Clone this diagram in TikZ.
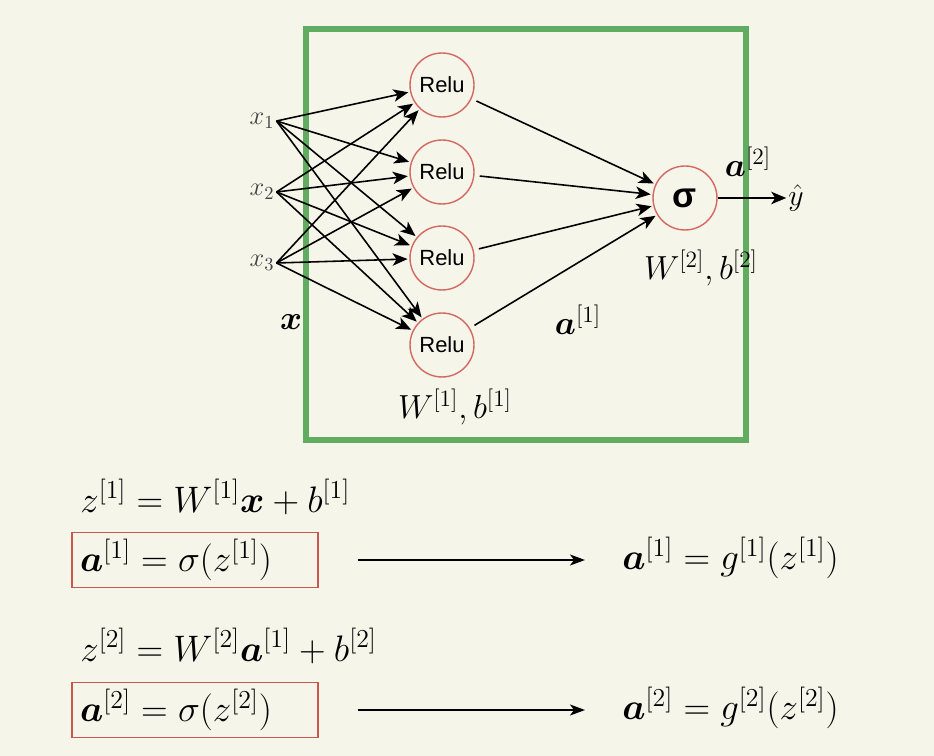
\RequirePackage{fix-cm}
\documentclass[tikz,border=0pt]{standalone}
\usepackage{amsmath, amssymb}
\usepackage{fontspec}
\setsansfont{Liberation Sans}
\usepackage{xcolor}
\usepackage{tikz}
\usetikzlibrary{arrows.meta}

\definecolor{paper}{RGB}{245,245,234}
\definecolor{framegreen}{RGB}{96,172,96}
\definecolor{unitred}{RGB}{214,104,98}
\definecolor{boxred}{RGB}{204,86,80}

\tikzset{
    unit/.style={circle, draw=unitred, line width=0.8pt, minimum size=1.28cm, inner sep=0pt,
        font=\sffamily\fontsize{12.5}{14}\selectfont},
    wire/.style={-{Stealth[length=3mm, width=2.5mm, inset=0.8mm]}, line width=0.9pt},
    inlbl/.style={inner sep=1pt, text=black!75, font=\fontsize{15}{17}\selectfont},
    lbl/.style={inner sep=0pt, font=\fontsize{19}{22}\selectfont},
    eq/.style={anchor=west, inner sep=0pt, font=\fontsize{21}{25}\selectfont},
    eqbox/.style={draw=boxred, line width=0.8pt, minimum height=1.1cm, text width=4.6cm,
        inner xsep=0.16cm, align=left, font=\fontsize{21}{25}\selectfont},
    link/.style={-{Stealth[length=3mm, width=2.2mm, inset=0.8mm]}, line width=1pt,
        shorten <=0.78cm, shorten >=0.74cm}
}

\begin{document}
\begin{tikzpicture}[x=0.02cm, y=-0.02cm]
    % Background and the green frame
    \useasboundingbox[fill=paper] (0,0) rectangle (934,756);
    \draw[framegreen, line width=0.12cm] (306,29) rectangle (746,440);

    % Inputs
    \node[inlbl] (x1) at (262,121) {$x_1$};
    \node[inlbl] (x2) at (262,192) {$x_2$};
    \node[inlbl] (x3) at (262,263) {$x_3$};

    % Hidden units
    \node[unit] (r1) at (442,85) {Relu};
    \node[unit] (r2) at (442,172) {Relu};
    \node[unit] (r3) at (442,258) {Relu};
    \node[unit] (r4) at (442,345) {Relu};

    % Output unit
    \node[unit, font=\sffamily\bfseries\fontsize{20}{22}\selectfont] (s) at (685,198) {σ};
    \node[inner sep=1pt, font=\fontsize{17}{19}\selectfont] (yhat) at (796,198) {$\hat{y}$};

    % Input to hidden
    \draw[wire, shorten >=1pt] (x1.east) -- (r1);
    \draw[wire, shorten >=1pt] (x1.east) -- (r2);
    \draw[wire, shorten >=1pt] (x1.east) -- (r3);
    \draw[wire, shorten >=1pt] (x1.east) -- (r4);
    \draw[wire, shorten >=1pt] (x2.east) -- (r1);
    \draw[wire, shorten >=1pt] (x2.east) -- (r2);
    \draw[wire, shorten >=1pt] (x2.east) -- (r3);
    \draw[wire, shorten >=1pt] (x2.east) -- (r4);
    \draw[wire, shorten >=1pt] (x3.east) -- (r1);
    \draw[wire, shorten >=1pt] (x3.east) -- (r2);
    \draw[wire, shorten >=1pt] (x3.east) -- (r3);
    \draw[wire, shorten >=1pt] (x3.east) -- (r4);

    % Hidden to output
    \draw[wire, shorten <=3pt, shorten >=1pt] (r1) -- (s);
    \draw[wire, shorten <=3pt, shorten >=1pt] (r2) -- (s);
    \draw[wire, shorten <=3pt, shorten >=1pt] (r3) -- (s);
    \draw[wire, shorten <=3pt, shorten >=1pt] (r4) -- (s);
    \draw[wire] (s) -- (yhat);

    % Labels
    \node[lbl] (xvec) at (291,322) {$\boldsymbol{x}$};
    \node[lbl] (wb1) at (455,407) {$W^{[1]}, b^{[1]}$};
    \node[lbl] (act1) at (578,320) {$\boldsymbol{a}^{[1]}$};
    \node[lbl] (wb2) at (701,268) {$W^{[2]}, b^{[2]}$};
    \node[lbl] (act2) at (748,162) {$\boldsymbol{a}^{[2]}$};

    % Equations, layer 1
    \node[eq] (z1) at (80,497) {$z^{[1]} = W^{[1]}\boldsymbol{x} + b^{[1]}$};
    \node[eqbox] (box1) at (195,560) {$\boldsymbol{a}^{[1]} = \sigma(z^{[1]})$};
    \node[eq] (g1) at (622,558) {$\boldsymbol{a}^{[1]} = g^{[1]}(z^{[1]})$};
    \draw[link] (box1.east) -- (box1.east -| g1.west);

    % Equations, layer 2
    \node[eq] (z2) at (80,646) {$z^{[2]} = W^{[2]}\boldsymbol{a}^{[1]} + b^{[2]}$};
    \node[eqbox] (box2) at (195,710) {$\boldsymbol{a}^{[2]} = \sigma(z^{[2]})$};
    \node[eq] (g2) at (622,708) {$\boldsymbol{a}^{[2]} = g^{[2]}(z^{[2]})$};
    \draw[link] (box2.east) -- (box2.east -| g2.west);
\end{tikzpicture}
\end{document}
